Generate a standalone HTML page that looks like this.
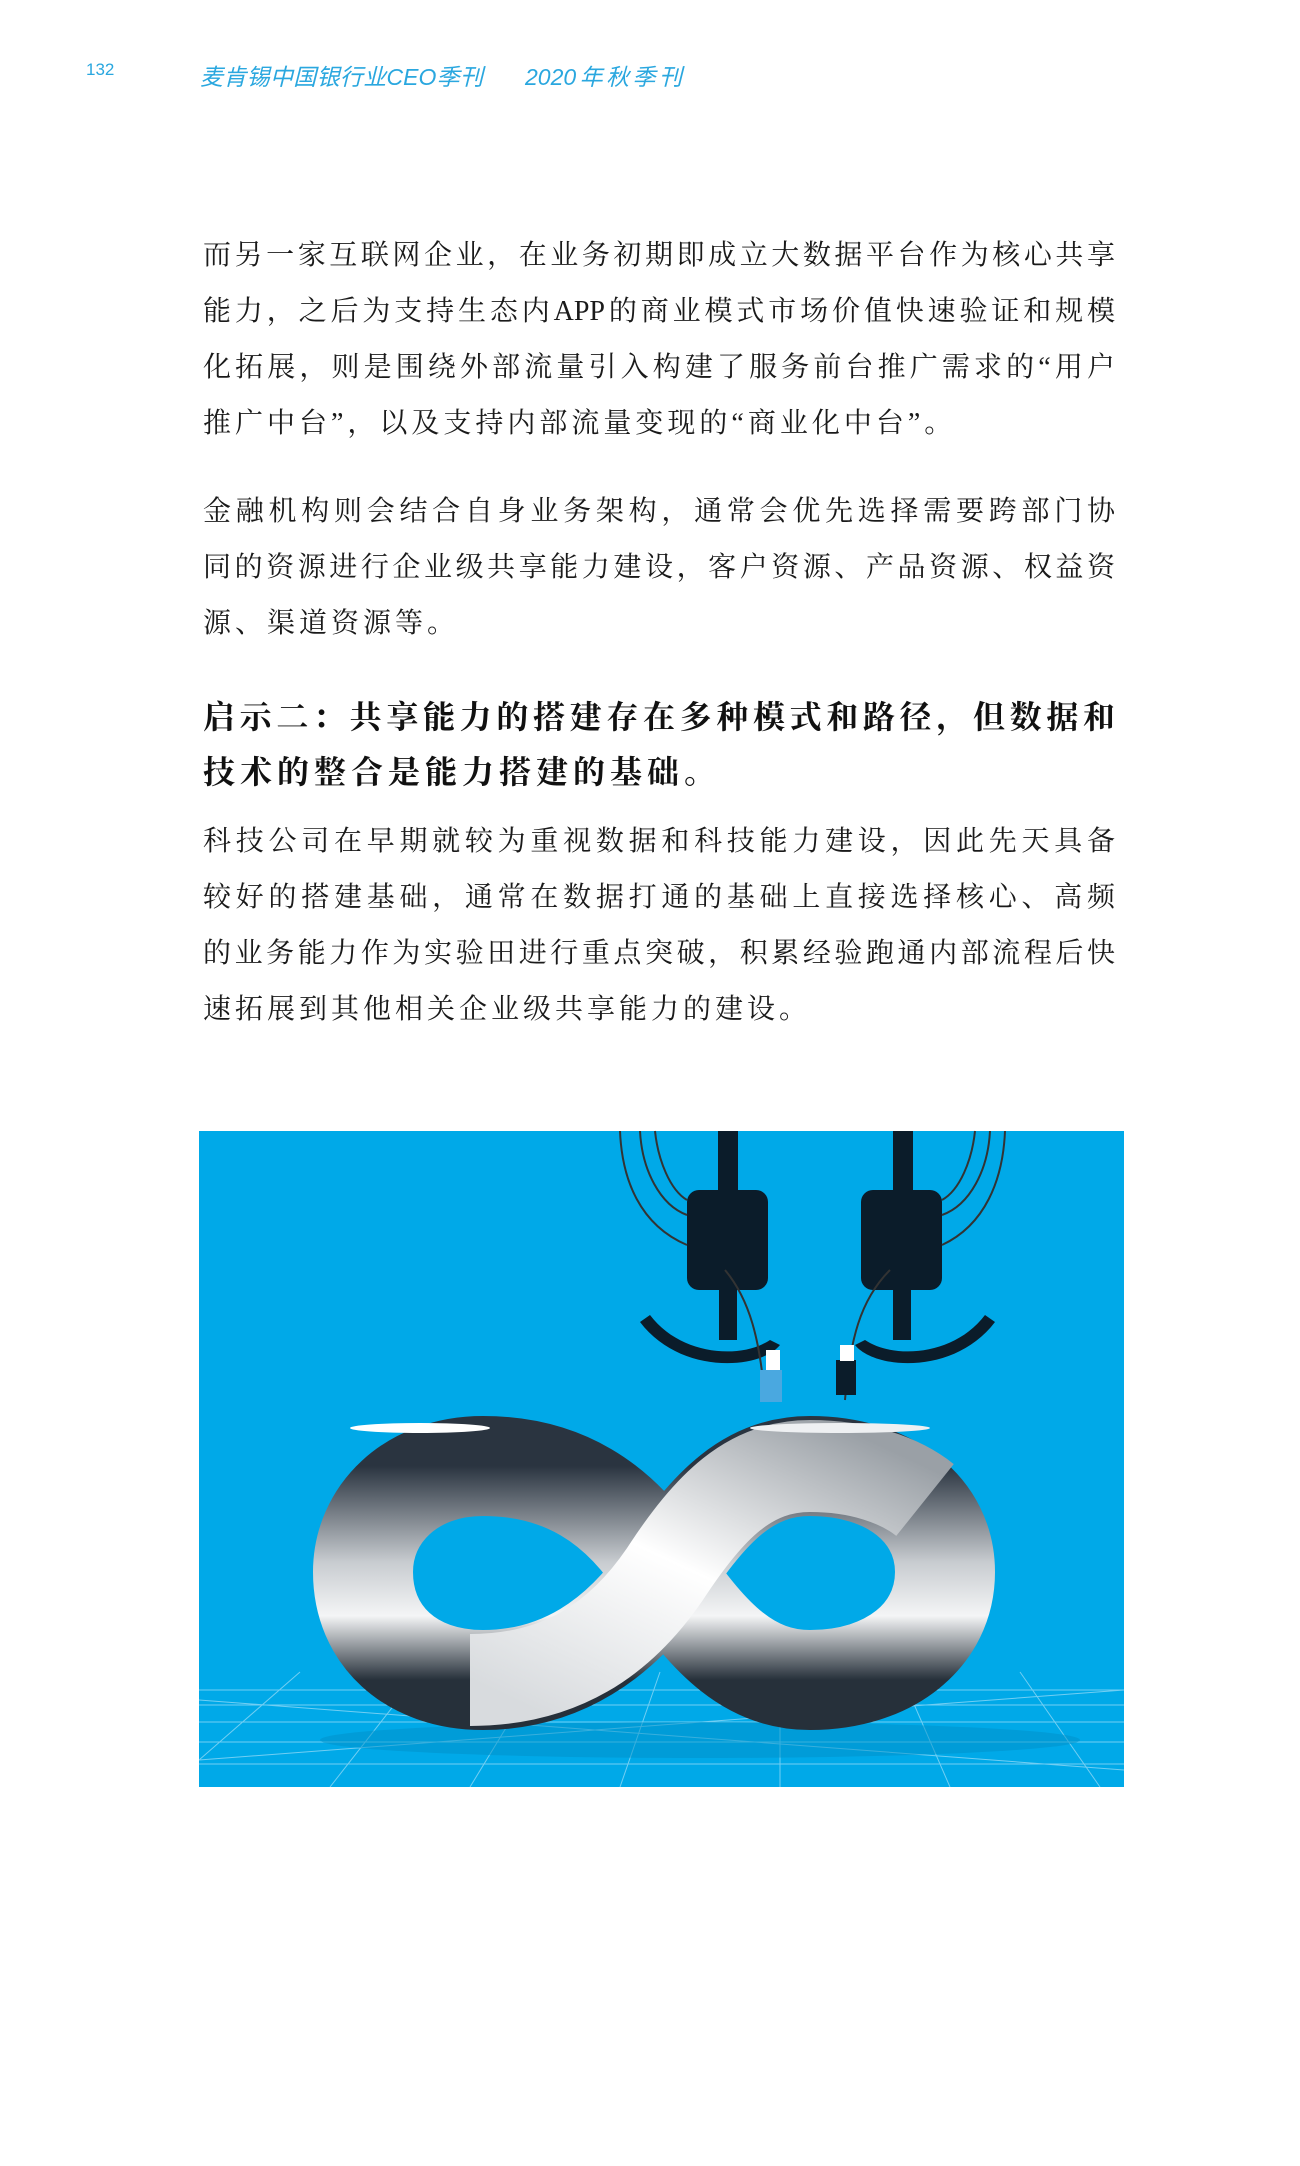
<!DOCTYPE html>
<html><head><meta charset="utf-8">
<style>
html,body{margin:0;padding:0;background:#fff;}
body{width:1300px;height:2166px;position:relative;overflow:hidden;font-family:"Liberation Serif","Noto Serif CJK SC",serif;}
.hdr{position:absolute;color:#2aa7df;font-family:"Liberation Sans","Noto Sans CJK SC",sans-serif;font-style:italic;font-size:23px;}
.ln{position:absolute;left:203px;width:912px;font-size:28px;color:#1a1a1a;text-align:justify;text-align-last:justify;line-height:40px;white-space:nowrap;}
.ln.last{text-align-last:left;letter-spacing:4px;}
.hd{font-size:32px;font-weight:bold;color:#111;}
.hd.last{letter-spacing:5px;}
</style></head><body>
<div class="hdr" style="left:86px;top:60px;font-size:17px;font-style:normal;">132</div>
<div class="hdr" style="left:200px;top:58px;width:283px;text-align:justify;text-align-last:justify;">麦肯锡中国银行业CEO季刊</div>
<div class="hdr" style="left:525px;top:58px;width:157px;text-align:justify;text-align-last:justify;">2020年秋季刊</div>

<div>
<div class="ln" style="top:236px">而另一家互联网企业，在业务初期即成立大数据平台作为核心共享</div>
<div class="ln" style="top:292px">能力，之后为支持生态内APP的商业模式市场价值快速验证和规模</div>
<div class="ln" style="top:348px">化拓展，则是围绕外部流量引入构建了服务前台推广需求的“用户</div>
<div class="ln last" style="top:404px">推广中台”，以及支持内部流量变现的“商业化中台”。</div>
</div>
<div>
<div class="ln" style="top:492px">金融机构则会结合自身业务架构，通常会优先选择需要跨部门协</div>
<div class="ln" style="top:548px">同的资源进行企业级共享能力建设，客户资源、产品资源、权益资</div>
<div class="ln last" style="top:604px">源、渠道资源等。</div>
</div>
<div>
<div class="ln hd" style="top:697px">启示二：共享能力的搭建存在多种模式和路径，但数据和</div>
<div class="ln hd last" style="top:752px">技术的整合是能力搭建的基础。</div>
</div>
<div>
<div class="ln" style="top:822px">科技公司在早期就较为重视数据和科技能力建设，因此先天具备</div>
<div class="ln" style="top:878px">较好的搭建基础，通常在数据打通的基础上直接选择核心、高频</div>
<div class="ln" style="top:934px">的业务能力作为实验田进行重点突破，积累经验跑通内部流程后快</div>
<div class="ln last" style="top:990px">速拓展到其他相关企业级共享能力的建设。</div>
</div>

<svg style="position:absolute;left:0;top:0" width="1300" height="2166">
<defs>
<linearGradient id="g1" x1="0" y1="1" x2="1" y2="0">
<stop offset="0" stop-color="#d8dbde"/><stop offset="0.5" stop-color="#ffffff"/><stop offset="1" stop-color="#9aa0a6"/>
</linearGradient>
<linearGradient id="g2" x1="0" y1="0" x2="0" y2="1">
<stop offset="0" stop-color="#2a3440"/><stop offset="0.45" stop-color="#c8ccd0"/><stop offset="0.7" stop-color="#f4f5f6"/><stop offset="1" stop-color="#26303a"/>
</linearGradient>
<clipPath id="c"><rect x="199" y="1131" width="925" height="656"/></clipPath>
</defs>
<rect x="199" y="1131" width="925" height="656" fill="#00a9e8"/>
<g clip-path="url(#c)" stroke="#8fd8f6" stroke-width="1" opacity="0.8">
<line x1="199" y1="1690" x2="1124" y2="1690"/><line x1="199" y1="1705" x2="1124" y2="1705"/><line x1="199" y1="1722" x2="1124" y2="1722"/><line x1="199" y1="1742" x2="1124" y2="1742"/><line x1="199" y1="1764" x2="1124" y2="1764"/>
<line x1="199" y1="1700" x2="1124" y2="1770"/><line x1="199" y1="1760" x2="1124" y2="1690"/>
<line x1="300" y1="1672" x2="199" y2="1760"/><line x1="420" y1="1672" x2="330" y2="1787"/><line x1="540" y1="1672" x2="470" y2="1787"/><line x1="660" y1="1672" x2="620" y2="1787"/><line x1="780" y1="1672" x2="780" y2="1787"/><line x1="900" y1="1672" x2="950" y2="1787"/><line x1="1020" y1="1672" x2="1100" y2="1787"/>
</g>
<ellipse cx="700" cy="1740" rx="380" ry="18" fill="#0090c8" opacity="0.5"/>
<path d="M665,1574 C620,1500 560,1466 483,1466 C410,1466 363,1515 363,1572 C363,1635 410,1680 483,1680 C560,1680 620,1640 665,1574 C710,1505 750,1466 810,1466 C890,1466 945,1510 945,1572 C945,1635 890,1680 810,1680 C750,1680 710,1640 665,1574 Z" fill="none" stroke="url(#g2)" stroke-width="100"/>
<path d="M470,1680 C560,1680 620,1640 665,1574 C710,1505 750,1466 810,1466 C860,1466 900,1480 925,1500" fill="none" stroke="url(#g1)" stroke-width="92"/>
<ellipse cx="420" cy="1428" rx="70" ry="5" fill="#fff"/><ellipse cx="840" cy="1428" rx="90" ry="5" fill="#eef0f2"/>
<g fill="#0b1c2a">
<rect x="718" y="1131" width="20" height="60"/><rect x="687" y="1190" width="81" height="100" rx="12"/><rect x="719" y="1290" width="18" height="50"/>
<path d="M640,1322 C680,1375 760,1370 780,1345 L770,1340 C740,1360 680,1355 650,1315 Z"/>
</g>
<g fill="#0b1c2a">
<rect x="893" y="1131" width="20" height="60"/><rect x="861" y="1190" width="81" height="100" rx="12"/><rect x="893" y="1290" width="18" height="50"/>
<path d="M995,1322 C955,1375 875,1370 855,1345 L865,1340 C895,1360 955,1355 985,1315 Z"/>
</g>
<g fill="none" stroke="#333" stroke-width="2">
<path d="M620,1131 C622,1180 640,1225 687,1245"/><path d="M640,1131 C642,1170 660,1205 687,1215"/><path d="M655,1131 C658,1160 670,1190 687,1200"/>
<path d="M1005,1131 C1003,1180 985,1225 942,1245"/><path d="M990,1131 C988,1170 970,1205 942,1215"/><path d="M975,1131 C972,1160 960,1190 942,1200"/>
<path d="M725,1270 C750,1300 760,1340 765,1400"/><path d="M890,1270 C860,1300 850,1340 845,1400"/>
</g>
<rect x="760" y="1370" width="22" height="32" fill="#4aa8e0"/><rect x="766" y="1350" width="14" height="20" fill="#fff"/>
<rect x="836" y="1360" width="20" height="35" fill="#0b1c2a"/><rect x="840" y="1345" width="14" height="16" fill="#fff"/>
</svg>
</body></html>
